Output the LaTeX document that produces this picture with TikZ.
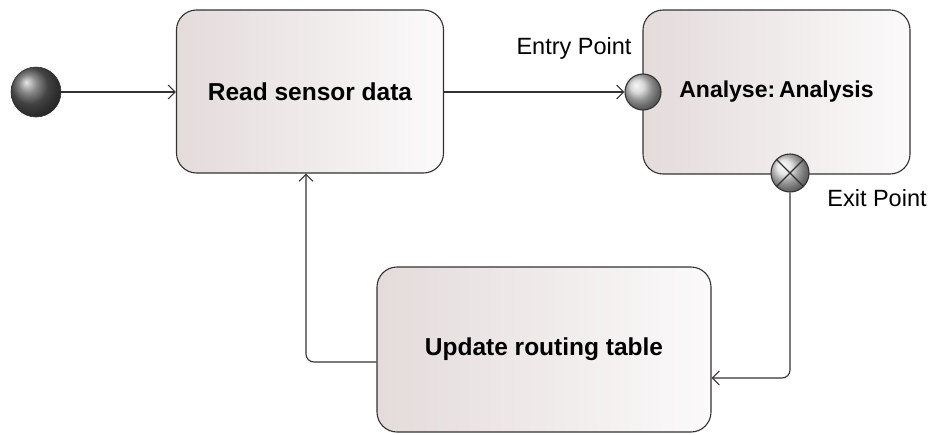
\documentclass[tikz,border=0pt]{standalone}
\usepackage{fontspec}
\setmainfont{Liberation Sans}
\usetikzlibrary{arrows.meta,shadings}
\definecolor{boxl}{RGB}{228,219,219}
\definecolor{boxr}{RGB}{251,250,250}
\definecolor{edge}{RGB}{50,50,50}
\tikzset{
  statebox/.style={draw=edge, line width=1.1pt, rounded corners=20pt,
    left color=boxl, right color=boxr, font=\fontsize{24.5}{29}\selectfont\bfseries},
  arr/.style={draw=edge, line width=1.1pt, -{Straight Barb[length=7pt,width=14pt,line width=1.1pt]}},
  lbl/.style={font=\fontsize{23.5}{28}\selectfont, text=black, inner sep=0pt},
  pt/.style={circle, draw=edge, line width=1.1pt, inner sep=0pt, shading=ball}
}
\begin{document}
\begin{tikzpicture}[x=1pt,y=-1pt]
\useasboundingbox (0,0) rectangle (933,434);
\node[circle, inner sep=0pt, minimum size=50pt, shading=ball, ball color=gray!75!black, draw=gray!40!black, line width=0.6pt] (init) at (36,92) {};
\node[statebox, minimum width=267pt, minimum height=163pt] (rd) at (310,91.5) {Read sensor data};
\node[statebox, minimum width=267pt, minimum height=164pt, font=\fontsize{23}{28}\selectfont\bfseries] (an) at (776.5,92) {Analyse:\,Analysis};
\node[statebox, minimum width=334pt, minimum height=165pt] (up) at (544,349.5) {Update routing table};
\node[pt, ball color=gray!40, minimum size=36pt] (en) at (643,92) {};
\node[pt, ball color=gray!25, minimum size=38pt] (ex) at (790,173) {};
\draw[edge, line width=1.1pt] (ex.north east) -- (ex.south west) (ex.north west) -- (ex.south east);
\node[lbl] (enl) at (574,48) {Entry Point};
\node[lbl] (exl) at (877,198) {Exit Point};
\draw[arr] (init) -- (rd.west |- init);
\draw[arr] (rd.east |- en) -- (en.west);
\draw[arr, rounded corners=8pt] (ex.south) |- ([yshift=-28.5pt]up.east);
\draw[arr, rounded corners=8pt] ([yshift=-12.5pt]up.west) -| ([xshift=-4pt]rd.south);
\end{tikzpicture}
\end{document}
